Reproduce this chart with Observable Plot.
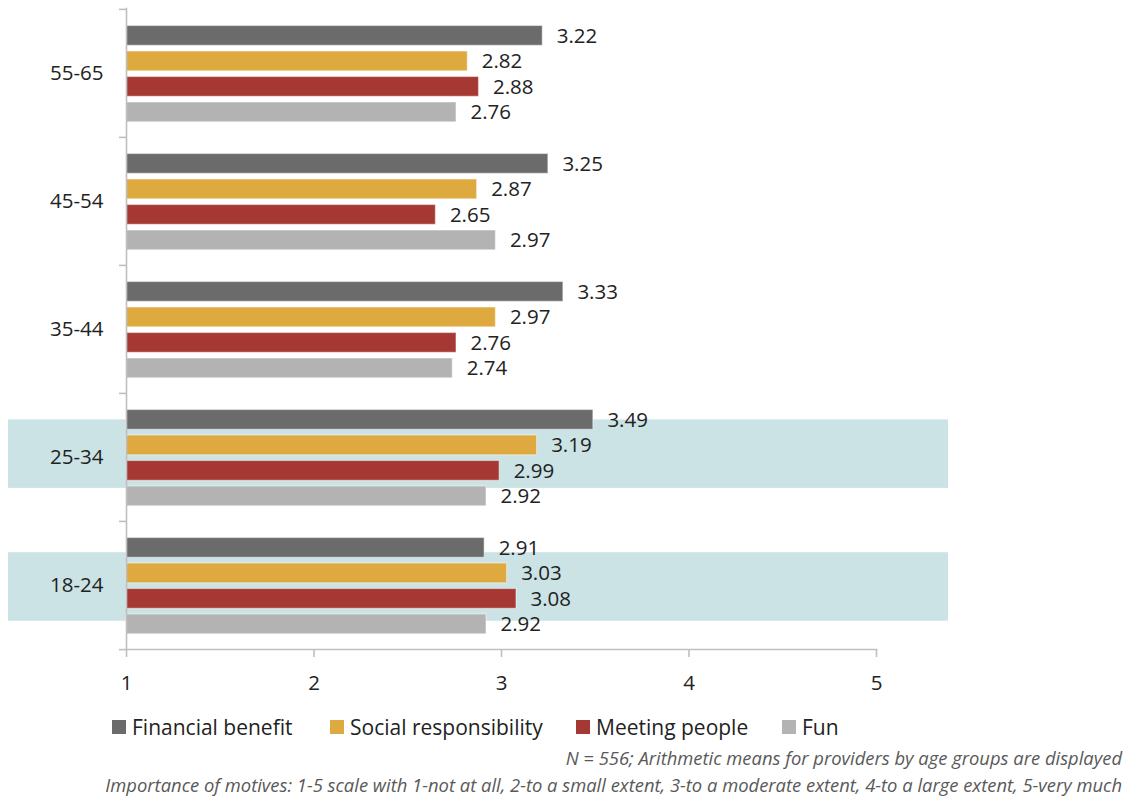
<!DOCTYPE html>
<html><head><meta charset="utf-8">
<script src="https://cdn.jsdelivr.net/npm/d3@7"></script>
<script src="https://cdn.jsdelivr.net/npm/@observablehq/plot@0.6"></script>
<style>
body{margin:0;background:#fff;font-family:"Open Sans",sans-serif;}
#wrap{position:relative;width:1131px;height:796px;overflow:hidden;}
#chart{position:absolute;left:0;top:0;}
.legend{position:absolute;top:715px;left:0;height:24px;font-size:21px;color:#222;}
.item{position:absolute;top:0;display:flex;align-items:center;height:24px;white-space:nowrap;}
.sw{width:14px;height:14px;margin-right:6px;flex:none;}
.cap{position:absolute;right:9px;font-style:italic;font-size:18.4px;color:#595959;white-space:nowrap;line-height:22px;}
</style></head>
<body><div id="wrap"><div id="chart"></div></div>
<script>
// ---- data ----
const groups = ["55-65", "45-54", "35-44", "25-34", "18-24"];
const series = ["Financial benefit", "Social responsibility", "Meeting people", "Fun"];
const financial = [3.22, 3.25, 3.33, 3.49, 2.91];
const social    = [2.82, 2.87, 2.97, 3.19, 3.03];
const meeting   = [2.88, 2.65, 2.76, 2.99, 3.08];
const fun       = [2.76, 2.97, 2.74, 2.92, 2.92];
const colors = ["#6b6b6b", "#dea93f", "#a63834", "#b3b3b3"];
const highlighted = ["25-34", "18-24"];
const xTicks = [1, 2, 3, 4, 5];
const captions = [
  "N = 556; Arithmetic  means for providers by age groups are displayed",
  "Importance of motives: 1-5 scale with 1-not at all, 2-to a small extent, 3-to a moderate extent, 4-to a large extent, 5-very much"
];

const values = [financial, social, meeting, fun];
const data = groups.flatMap((g, i) => series.map((s, j) => ({group: g, series: s, value: values[j][i]})));

// ---- layout constants ----
const W = 1131, H = 700, mTop = 8, mBottom = 51, mLeft = 126, mRight = 255;
const bw = (H - mTop - mBottom) / groups.length;   // band height
const barH = 20, barTop0 = 16.5, barStep = 25.5;
const textColor = "#222", axisColor = "#bfbfbf", bandColor = "#cbe3e5";

const bandInsets = {"25-34": [26.4, 33.1], "18-24": [31.2, 28.3]};

const marks = [];
// highlight bands
for (const g of highlighted) {
  marks.push(Plot.barX([g], {
    y: d => d, x1: 1, x2: 5, fill: bandColor,
    insetLeft: -118, insetRight: -72,
    insetTop: bandInsets[g][0], insetBottom: bandInsets[g][1]
  }));
}
// bars
series.forEach((s, j) => {
  const top = barTop0 + j * barStep;
  const sub = data.filter(d => d.series === s);
  marks.push(Plot.barX(sub, {
    y: "group", x1: 1, x2: "value", fill: colors[j],
    stroke: "white", strokeOpacity: 0.45, strokeWidth: 1.2,
    insetTop: top, insetBottom: bw - top - barH
  }));
  marks.push(Plot.text(sub, {
    y: "group", x: "value", text: d => d.value.toFixed(2),
    dy: top + barH / 2 - bw / 2 + 0.5, dx: 14, textAnchor: "start",
    fontSize: 20.5, fill: textColor
  }));
});
// axes lines
marks.push(Plot.frame({anchor: "left", stroke: axisColor, strokeWidth: 1.6}));
marks.push(Plot.frame({anchor: "bottom", stroke: axisColor, strokeWidth: 1.6}));
// boundary ticks on the category axis
marks.push(Plot.ruleY(groups, {y: d => d, x1: 1, x2: 1, insetLeft: -7, dy: -bw / 2, stroke: axisColor, strokeWidth: 1.6}));
marks.push(Plot.ruleY([groups[groups.length - 1]], {y: d => d, x1: 1, x2: 1, insetLeft: -7, dy: bw / 2, stroke: axisColor, strokeWidth: 1.6}));
// category labels
marks.push(Plot.axisY({tickSize: 0, tickPadding: 23, fontSize: 20.5, fill: textColor}));
// value axis
marks.push(Plot.axisX({ticks: xTicks, tickSize: 8, tickPadding: 18, fontSize: 20.5, stroke: axisColor, strokeWidth: 1.6, fill: textColor, tickFormat: d => String(d)}));

const chart = Plot.plot({
  width: W, height: H,
  marginTop: mTop, marginBottom: mBottom, marginLeft: mLeft, marginRight: mRight,
  style: {fontFamily: "Open Sans", fontSize: "20px", color: textColor, background: "transparent", overflow: "visible"},
  x: {domain: [1, 5], label: null},
  y: {domain: groups, padding: 0, label: null},
  marks
});
document.getElementById("chart").appendChild(chart);

// ---- legend ----
const wrap = document.getElementById("wrap");
const legend = document.createElement("div");
legend.className = "legend";
const legendLefts = [112, 330, 576, 782];
series.forEach((s, j) => {
  const it = document.createElement("div");
  it.className = "item";
  it.style.left = legendLefts[j] + "px";
  const sw = document.createElement("span");
  sw.className = "sw";
  sw.style.background = colors[j];
  const tx = document.createElement("span");
  tx.textContent = s;
  it.appendChild(sw); it.appendChild(tx);
  legend.appendChild(it);
});
wrap.appendChild(legend);

// ---- captions ----
captions.forEach((c, i) => {
  const d = document.createElement("div");
  d.className = "cap";
  d.style.top = (747 + i * 27) + "px";
  d.textContent = c;
  wrap.appendChild(d);
});
</script>
</body></html>
